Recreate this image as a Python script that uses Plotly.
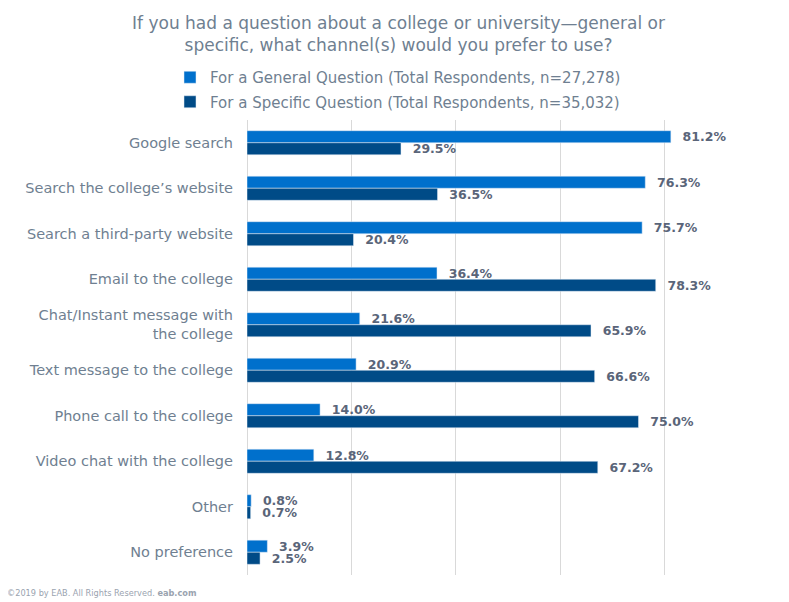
import plotly.graph_objects as go

# --- Data ---
categories = [
    "Google search",
    "Search the college’s website",
    "Search a third-party website",
    "Email to the college",
    "Chat/Instant message with<br>the college",
    "Text message to the college",
    "Phone call to the college",
    "Video chat with the college",
    "Other",
    "No preference",
]
general_pct = [81.2, 76.3, 75.7, 36.4, 21.6, 20.9, 14.0, 12.8, 0.8, 3.9]
specific_pct = [29.5, 36.5, 20.4, 78.3, 65.9, 66.6, 75.0, 67.2, 0.7, 2.5]

series_names = [
    "For a General Question (Total Respondents, n=27,278)",
    "For a Specific Question (Total Respondents, n=35,032)",
]
x_ticks = [0, 20, 40, 60, 80, 100]

# --- Style ---
FONT = "Verdana, DejaVu Sans, sans-serif"
TEXT_GREY = "#6F7F91"
LABEL_GREY = "#5A6579"
GENERAL_BLUE = "#0070CC"
SPECIFIC_BLUE = "#004B87"
GRID = "#D9D9D9"

# the page body has an 8px margin, so the figure is drawn 8px smaller
OFF = 8
W, H = 789 - OFF, 602 - OFF
L, R, T, B = 247 - OFF, 20, 120 - OFF, 27
PW, PH = W - L - R, H - T - B


def px_to_paper(px, py):
    # px, py in screenshot pixels
    return (px - OFF - L) / PW, (H - B - (py - OFF)) / PH


fig = go.Figure()

for name, vals, color, grp in [
    (series_names[0], general_pct, GENERAL_BLUE, "g"),
    (series_names[1], specific_pct, SPECIFIC_BLUE, "s"),
]:
    fig.add_trace(go.Bar(
        name=name,
        y=categories,
        x=vals,
        orientation="h",
        marker_color=color,
        legendgroup=grp,
        text=[f"\u00a0\u00a0{v:.1f}%" for v in vals],
        textposition="outside",
        constraintext="none",
        textfont=dict(family=FONT, size=12.5, color=LABEL_GREY, weight="bold"),
        cliponaxis=False,
        hovertemplate="%{y}: %{x:.1f}%<extra></extra>",
    ))

fx, fy = px_to_paper(5, 593)
lx, ly = px_to_paper(170, 61)

fig.update_layout(
    width=W,
    height=H,
    margin=dict(l=L, r=R, t=T, b=B, autoexpand=False),
    paper_bgcolor="white",
    plot_bgcolor="white",
    font=dict(family=FONT, size=13, color=TEXT_GREY),
    barmode="group",
    bargap=0.47,
    bargroupgap=0,
    title=dict(
        text="If you had a question about a college or university—general or<br>specific, what channel(s) would you prefer to use?",
        x=0.5, xref="container", xanchor="center",
        y=1 - (28.5 - OFF) / H, yref="container", yanchor="middle",
        font=dict(family=FONT, size=17, color=TEXT_GREY),
    ),
    legend=dict(
        orientation="v",
        x=lx, y=ly, xanchor="left", yanchor="top",
        font=dict(family=FONT, size=15, color=TEXT_GREY),
        tracegroupgap=2,
        itemwidth=30,
        bgcolor="rgba(0,0,0,0)",
    ),
    xaxis=dict(
        range=[0, 100],
        tickvals=x_ticks,
        showticklabels=False,
        showgrid=True,
        gridcolor=GRID,
        gridwidth=1,
        zeroline=True,
        zerolinecolor=GRID,
        zerolinewidth=1,
        fixedrange=True,
    ),
    yaxis=dict(
        autorange="reversed",
        showgrid=False,
        ticks="",
        ticklabelstandoff=13,
        tickfont=dict(family=FONT, size=14.5, color=TEXT_GREY),
        fixedrange=True,
    ),
    annotations=[
        dict(
            text="©2019 by EAB. All Rights Reserved. <b>eab.com</b>",
            xref="paper", yref="paper",
            x=fx, y=fy, xanchor="left", yanchor="middle",
            showarrow=False,
            font=dict(family="DejaVu Sans, sans-serif", size=8.2, color="#9AA3AF"),
        )
    ],
)

fig.write_html("out.html")
